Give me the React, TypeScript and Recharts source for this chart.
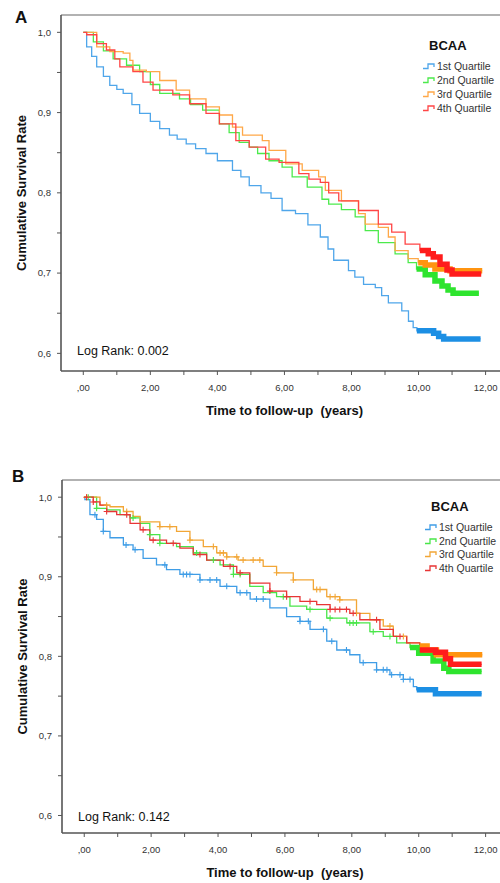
import React from 'react';
import { ComposedChart, Line, Scatter, XAxis, YAxis, ReferenceLine } from 'recharts';

type Pt = { t: number; s: number };

const quartiles = ['1st Quartile', '2nd Quartile', '3rd Quartile', '4th Quartile'];
const xTicks = [0, 1, 2, 3, 4, 5, 6, 7, 8, 9, 10, 11, 12];
const yTicks = [0.6, 0.65, 0.7, 0.75, 0.8, 0.85, 0.9, 0.95, 1.0];

// Panel A: survival steps [time, survival]
const blueA = [[0, 1], [0.1, 0.982], [0.25, 0.97], [0.4, 0.957], [0.6, 0.945], [0.79, 0.934], [1.0, 0.929], [1.19, 0.924], [1.45, 0.91], [1.68, 0.899], [2.0, 0.889], [2.28, 0.88], [2.57, 0.872], [2.8, 0.867], [3.07, 0.861], [3.35, 0.855], [3.66, 0.849], [4.0, 0.84], [4.45, 0.828], [4.7, 0.82], [4.95, 0.809], [5.3, 0.8], [5.6, 0.793], [5.93, 0.778], [6.33, 0.774], [6.7, 0.76], [7.07, 0.745], [7.3, 0.73], [7.47, 0.716], [7.91, 0.703], [8.1, 0.695], [8.36, 0.686], [8.71, 0.682], [8.9, 0.672], [9.1, 0.663], [9.5, 0.653], [9.7, 0.64], [9.84, 0.632], [9.95, 0.628], [10.45, 0.625], [10.6, 0.621], [10.75, 0.618], [11.85, 0.618]];
const greenA = [[0, 1], [0.3, 0.988], [0.6, 0.977], [0.89, 0.967], [1.29, 0.959], [1.68, 0.951], [2.0, 0.935], [2.28, 0.924], [2.87, 0.917], [3.2, 0.91], [3.56, 0.903], [4.06, 0.886], [4.35, 0.875], [4.65, 0.863], [4.95, 0.857], [5.2, 0.849], [5.54, 0.84], [5.93, 0.832], [6.23, 0.82], [6.68, 0.807], [7.12, 0.792], [7.32, 0.786], [7.7, 0.779], [8.11, 0.77], [8.41, 0.753], [8.8, 0.738], [9.3, 0.724], [9.69, 0.713], [9.94, 0.705], [10.2, 0.698], [10.49, 0.69], [10.7, 0.684], [10.88, 0.679], [11.03, 0.675], [11.8, 0.675]];
const orangeA = [[0, 1], [0.4, 0.982], [0.79, 0.976], [1.19, 0.974], [1.39, 0.965], [1.48, 0.953], [1.88, 0.951], [2.28, 0.94], [2.77, 0.928], [3.17, 0.917], [3.66, 0.907], [4.06, 0.897], [4.45, 0.882], [4.75, 0.872], [5.34, 0.865], [5.54, 0.853], [6.04, 0.836], [6.53, 0.828], [7.02, 0.82], [7.22, 0.803], [7.7, 0.79], [8.21, 0.774], [8.41, 0.761], [8.8, 0.757], [9.1, 0.745], [9.3, 0.728], [9.69, 0.718], [9.99, 0.713], [10.2, 0.71], [10.49, 0.705], [10.94, 0.703], [11.9, 0.703]];
const redA = [[0, 1], [0.1, 0.997], [0.4, 0.986], [0.69, 0.978], [0.94, 0.967], [1.09, 0.957], [1.48, 0.951], [1.78, 0.938], [2.08, 0.928], [2.67, 0.922], [3.17, 0.911], [3.66, 0.899], [4.06, 0.886], [4.55, 0.865], [4.95, 0.857], [5.44, 0.842], [5.84, 0.838], [6.43, 0.824], [6.73, 0.817], [7.07, 0.813], [7.32, 0.8], [7.62, 0.79], [8.21, 0.778], [8.8, 0.761], [9.2, 0.751], [9.6, 0.736], [10.04, 0.728], [10.29, 0.724], [10.44, 0.72], [10.64, 0.711], [10.85, 0.704], [11.0, 0.699], [11.87, 0.699]];
const tailStartA = [9.95, 9.94, 9.99, 10.04];

// Panel B
const blueB = [[0, 1], [0.02, 0.997], [0.17, 0.978], [0.37, 0.972], [0.57, 0.957], [0.77, 0.949], [1.17, 0.94], [1.46, 0.934], [1.76, 0.923], [2.16, 0.915], [2.46, 0.909], [2.86, 0.903], [3.46, 0.896], [4.06, 0.888], [4.56, 0.88], [4.96, 0.872], [5.55, 0.861], [6.05, 0.85], [6.45, 0.844], [6.75, 0.834], [7.25, 0.819], [7.55, 0.808], [7.94, 0.802], [8.24, 0.792], [8.74, 0.783], [9.14, 0.777], [9.54, 0.771], [9.84, 0.762], [9.94, 0.758], [10.5, 0.753], [11.88, 0.753]];
const greenB = [[0, 1], [0.37, 0.986], [0.67, 0.984], [1.07, 0.978], [1.37, 0.974], [1.67, 0.967], [1.96, 0.953], [2.26, 0.942], [2.76, 0.938], [3.26, 0.93], [3.66, 0.921], [4.06, 0.915], [4.46, 0.903], [4.95, 0.888], [5.35, 0.88], [5.75, 0.875], [6.15, 0.863], [6.65, 0.859], [7.25, 0.848], [7.85, 0.842], [8.54, 0.831], [8.94, 0.825], [9.34, 0.817], [9.74, 0.811], [10.0, 0.804], [10.43, 0.794], [10.75, 0.785], [10.9, 0.781], [11.88, 0.781]];
const orangeB = [[0, 1], [0.47, 0.99], [0.77, 0.988], [1.17, 0.982], [1.46, 0.976], [1.67, 0.969], [2.26, 0.963], [2.76, 0.957], [3.16, 0.946], [3.56, 0.938], [3.96, 0.93], [4.26, 0.925], [4.6, 0.921], [5.35, 0.913], [5.75, 0.905], [6.25, 0.896], [6.85, 0.884], [7.25, 0.875], [7.64, 0.871], [8.14, 0.854], [8.54, 0.846], [8.94, 0.838], [9.24, 0.825], [9.64, 0.817], [10.03, 0.813], [10.25, 0.808], [10.53, 0.802], [11.9, 0.802]];
const redB = [[0, 1], [0.27, 0.994], [0.47, 0.99], [0.67, 0.982], [0.97, 0.978], [1.37, 0.967], [1.67, 0.959], [1.96, 0.946], [2.46, 0.942], [2.86, 0.936], [3.26, 0.928], [3.66, 0.921], [4.16, 0.913], [4.56, 0.905], [4.95, 0.892], [5.55, 0.882], [6.05, 0.875], [6.45, 0.869], [6.95, 0.865], [7.35, 0.859], [7.94, 0.854], [8.24, 0.846], [8.84, 0.834], [9.24, 0.825], [9.64, 0.817], [10.03, 0.808], [10.5, 0.805], [10.8, 0.797], [10.95, 0.79], [11.88, 0.79]];
const tailStartB = [9.94, 9.74, 10.03, 10.03];

// censored observations, panel B (years)
const blueCensB = [0.32, 0.57, 1.25, 1.52, 2.41, 2.96, 3.06, 3.16, 3.46, 3.76, 3.96, 4.26, 4.66, 4.86, 5.15, 5.35, 6.45, 6.7, 7.15, 7.4, 7.84, 8.34, 8.74, 8.94, 9.05, 9.19, 9.44, 9.54, 9.74];
const greenCensB = [0.12, 0.37, 1.46, 1.96, 2.26, 3.36, 3.86, 4.46, 4.66, 5.95, 6.75, 7.35, 7.94, 8.04, 8.14, 8.64, 9.14];
const orangeCensB = [0.07, 0.67, 1.27, 2.26, 2.56, 3.16, 3.86, 4.06, 4.16, 4.26, 4.56, 4.75, 5.05, 5.25, 5.75, 6.25, 6.95, 7.05, 7.35, 7.5, 7.64, 8.14, 9.14, 9.54];
const redCensB = [0.07, 0.27, 0.67, 1.27, 1.76, 2.06, 2.66, 3.46, 4.36, 4.66, 5.55, 6.05, 6.75, 7.35, 7.5, 7.64, 7.84, 8.04, 8.74, 9.44];

const lineColors = ['#4fa6ea', '#4cea4c', '#ffa848', '#ff4545'];
const bandColors = ['#1c8fe4', '#2ee42e', '#ff9410', '#ff1c1c'];
const lineColorsB = ['#3f9de6', '#4ae64a', '#f2a636', '#e83535'];

const font = '"Liberation Sans", Arial, sans-serif';
const xDomain = [-0.665, 12.43];
const yDomain = [0.578, 1.0216];

const toPts = (arr: number[][]): Pt[] => arr.map(([t, s]) => ({ t, s }));
const survAt = (pts: Pt[], t: number) => {
  let s = pts[0].s;
  for (const p of pts) if (p.t <= t) s = p.s;
  return s;
};
const tailOf = (pts: Pt[], start: number): Pt[] => [
  { t: start, s: survAt(pts, start) },
  ...pts.filter((p) => p.t > start),
];

const xFmt = (v: number) => (v % 2 ? '' : v === 0 ? ',00' : `${v},00`);
const yFmt = (v: number) => {
  const k = Math.round(v * 100);
  if (k % 10) return '';
  return k === 100 ? '1,0' : `0,${k / 10}`;
};

const Cross = (props: any) => {
  const { cx, cy, fill } = props;
  if (cx == null || cy == null) return null;
  return (
    <path d={`M${cx - 3},${cy}H${cx + 3}M${cx},${cy - 3}V${cy + 3}`} stroke={fill} strokeWidth={1.1} fill="none" />
  );
};

interface PanelProps {
  series: number[][][];
  tails: number[];
  colors: string[];
  censors?: number[][];
  height: number;
  width: number;
  xAxisHeight: number;
  labelOffset: number;
}

const Panel: React.FC<PanelProps> = ({ series, tails, colors, censors, height, width, xAxisHeight, labelOffset }) => {
  const pts = series.map(toPts);
  const tick = { fontSize: 9.5, fill: '#333', fontFamily: font };
  return (
    <ComposedChart width={width} height={height} margin={{ top: 15, right: 0, left: 0, bottom: 0 }}>
      <XAxis
        dataKey="t"
        type="number"
        domain={xDomain}
        allowDataOverflow
        ticks={xTicks}
        tickFormatter={xFmt}
        interval={0}
        height={xAxisHeight}
        tickSize={4}
        tickMargin={9}
        tick={tick}
        axisLine={{ stroke: '#555', strokeWidth: 1.6 }}
        tickLine={{ stroke: '#555' }}
        label={{
          value: 'Time to follow-up \u00A0(years)',
          position: 'insideBottom',
          offset: labelOffset,
          dx: 4,
          style: { fontSize: 13, fontWeight: 'bold', fill: '#111', fontFamily: font },
        }}
      />
      <YAxis
        dataKey="s"
        type="number"
        domain={yDomain}
        allowDataOverflow
        ticks={yTicks}
        tickFormatter={yFmt}
        interval={0}
        width={61}
        tickSize={4}
        tickMargin={6}
        tick={tick}
        axisLine={{ stroke: '#555', strokeWidth: 1.6 }}
        tickLine={{ stroke: '#555' }}
        label={{
          value: 'Cumulative Survival Rate',
          angle: -90,
          position: 'insideLeft',
          offset: 21,
          style: { textAnchor: 'middle', fontSize: 13, fontWeight: 'bold', fill: '#111', fontFamily: font },
        }}
      />
      <ReferenceLine y={yDomain[1]} stroke="#999" strokeWidth={1.5} />
      {pts.map((p, i) => (
        <Line
          key={`l${i}`}
          data={p}
          dataKey="s"
          type="stepAfter"
          stroke={colors[i]}
          strokeWidth={1.3}
          dot={false}
          activeDot={false}
          isAnimationActive={false}
        />
      ))}
      {censors &&
        censors.map((c, i) => (
          <Scatter
            key={`c${i}`}
            data={c.map((t) => ({ t, s: survAt(pts[i], t) }))}
            dataKey="s"
            fill={colors[i]}
            shape={<Cross />}
            isAnimationActive={false}
          />
        ))}
      {pts.map((p, i) => (
        <Line
          key={`t${i}`}
          data={tailOf(p, tails[i])}
          dataKey="s"
          type="stepAfter"
          stroke={bandColors[i]}
          strokeWidth={5.5}
          dot={false}
          activeDot={false}
          isAnimationActive={false}
        />
      ))}
    </ComposedChart>
  );
};

const LegendBox: React.FC<{ colors: string[]; top: number; left: number; rowH: number }> = ({ colors, top, left, rowH }) => (
  <div style={{ position: 'absolute', top, left, fontFamily: font }}>
    <div style={{ fontSize: 13, fontWeight: 'bold', color: '#111', lineHeight: '15px', marginLeft: 6, marginBottom: 6 }}>BCAA</div>
    {quartiles.map((q, i) => (
      <div key={q} style={{ display: 'flex', alignItems: 'center', height: rowH, fontSize: 10.5, color: '#333' }}>
        <svg width={13} height={8} style={{ marginRight: 1 }}>
          <path d="M0 6.5H5V2H11V5" stroke={colors[i]} strokeWidth={1.3} fill="none" />
        </svg>
        <span>{q}</span>
      </div>
    ))}
  </div>
);

const note = (text: string, top: number, left: number, size: number, bold = false) => (
  <div
    style={{
      position: 'absolute',
      top,
      left,
      fontSize: size,
      lineHeight: 1,
      fontWeight: bold ? 'bold' : 'normal',
      fontFamily: font,
      color: '#111',
      whiteSpace: 'nowrap',
    }}
  >
    {text}
  </div>
);

export default function App() {
  return (
    <div style={{ position: 'absolute', left: 0, top: 0, width: 500, height: 883, background: '#fff', overflow: 'hidden' }}>
      <div style={{ position: 'absolute', left: 0, top: 0 }}>
        <Panel
          series={[blueA, greenA, orangeA, redA]}
          tails={tailStartA}
          colors={lineColors}
          width={500}
          height={440}
          xAxisHeight={69}
          labelOffset={25}
        />
      </div>
      {note('A', 9, 15, 17, true)}
      <LegendBox colors={lineColors} top={38} left={423} rowH={14} />
      {note('Log Rank: 0.002', 345, 77, 12.5)}

      <div style={{ position: 'absolute', left: 1, top: 465 }}>
        <Panel
          series={[blueB, greenB, orangeB, redB]}
          tails={tailStartB}
          colors={lineColorsB}
          censors={[blueCensB, greenCensB, orangeCensB, redCensB]}
          width={499}
          height={418}
          xAxisHeight={50}
          labelOffset={6}
        />
      </div>
      {note('B', 468, 12, 17, true)}
      <LegendBox colors={lineColorsB} top={499} left={425} rowH={13.7} />
      {note('Log Rank: 0.142', 811, 78, 12.5)}
    </div>
  );
}
